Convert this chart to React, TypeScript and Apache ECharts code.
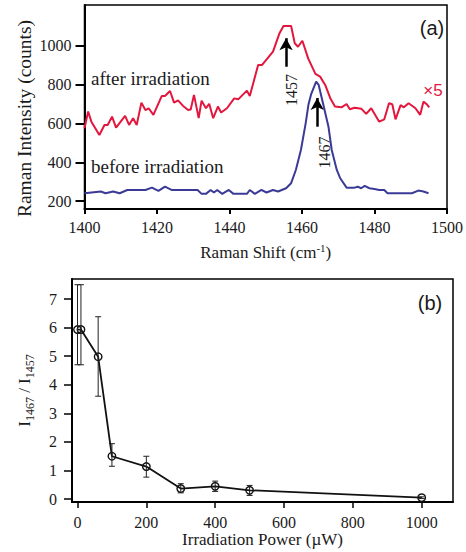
import React, { useEffect, useRef } from "react";
import * as echarts from "echarts";

// Panel (a): Raman spectra
const afterShift = [1400, 1401, 1401.9, 1404.1, 1405.5, 1406.4, 1407.6, 1408.7, 1411.2, 1412.3, 1413.4, 1414.4, 1415.7, 1416.8, 1417.7, 1419, 1421.3, 1422.2, 1423.6, 1424.7, 1425.8, 1427.2, 1428.6, 1429.3, 1430.2, 1431.5, 1432.3, 1433.5, 1434.4, 1435.5, 1436.8, 1437.7, 1439.3, 1441.3, 1442.4, 1444.8, 1445.6, 1447.9, 1449.0, 1452.0, 1453.8, 1454.9, 1457.0, 1458.0, 1458.9, 1460.1, 1461.7, 1463.7, 1465.0, 1466.4, 1467.8, 1469.1, 1470.9, 1472.3, 1473.2, 1474.5, 1476.4, 1477.7, 1479.1, 1481.3, 1482.7, 1484.0, 1484.9, 1485.8, 1487.2, 1488.1, 1489.4, 1491.3, 1492.6, 1493.5, 1494.4, 1495.1];
const afterCounts = [576, 662, 610, 541, 593, 593, 636, 579, 640, 593, 628, 593, 708, 670, 679, 645, 742, 742, 768, 708, 720, 691, 670, 673, 748, 628, 718, 679, 702, 628, 688, 657, 679, 730, 725, 770, 742, 902, 902, 971, 1066, 1103, 1103, 1014, 996, 1027, 936, 856, 842, 799, 731, 688, 684, 701, 674, 682, 676, 650, 679, 610, 622, 705, 700, 622, 695, 684, 705, 679, 645, 713, 700, 684];

const beforeShift = [1400, 1404.5, 1405.8, 1407.9, 1409.7, 1411.8, 1416.8, 1418.6, 1420.4, 1422.2, 1424.0, 1431.2, 1432.3, 1433.5, 1434.8, 1435.7, 1436.6, 1438.0, 1439.8, 1441.1, 1444.8, 1445.6, 1447.0, 1448.8, 1450.2, 1452.0, 1453.4, 1455.6, 1457.0, 1458.3, 1459.7, 1461.0, 1461.8, 1462.5, 1463.9, 1464.6, 1466.0, 1467.3, 1468.2, 1469.6, 1470.5, 1472.3, 1474.5, 1475.4, 1476.3, 1477.3, 1478.6, 1480.0, 1481.3, 1482.7, 1483.6, 1490.3, 1492.1, 1493.5, 1494.9];
const beforeCounts = [241, 250, 241, 250, 241, 258, 258, 270, 253, 275, 258, 258, 238, 238, 258, 245, 258, 238, 258, 238, 238, 258, 238, 258, 245, 258, 250, 267, 293, 361, 464, 600, 700, 750, 816, 799, 688, 584, 464, 361, 320, 270, 270, 275, 267, 279, 267, 263, 258, 258, 241, 241, 255, 250, 241];

const shiftTicks = [1400, 1420, 1440, 1460, 1480, 1500];
const countTicks = [200, 400, 600, 800, 1000];

// arrows: [shift, from count, to count]
const arrow1457 = [1455.6, 893, 1040];
const arrow1467 = [1464.2, 584, 732];

// Panel (b): ratio vs irradiation power
const power = [0, 10, 60, 100, 200, 300, 400, 500, 1000];
const ratio = [5.93, 5.93, 4.98, 1.5, 1.14, 0.37, 0.45, 0.31, 0.05];
const ratioLow = [4.7, 4.7, 3.6, 1.15, 0.77, 0.22, 0.27, 0.13, 0.02];
const ratioHigh = [7.5, 7.5, 6.38, 1.94, 1.5, 0.54, 0.63, 0.48, 0.08];

const powerTicks = [0, 200, 400, 600, 800, 1000];
const ratioTicks = [0, 1, 2, 3, 4, 5, 6, 7];

const SERIF = "Liberation Serif";
const SANS = "Liberation Sans";
const RED = "#e3173e";
const BLUE = "#3b3b97";

export default function App() {
  const ref = useRef<HTMLDivElement>(null);
  useEffect(() => {
    if (!ref.current) return;
    const chart = echarts.init(ref.current, null, { renderer: "svg" });

    const afterData = afterShift.map((x, i) => [x, afterCounts[i]]);
    const beforeData = beforeShift.map((x, i) => [x, beforeCounts[i]]);
    const ratioData = power.map((x, i) => [x, ratio[i]]);
    const errData = power.map((x, i) => [x, ratioLow[i], ratioHigh[i]]);

    const axisLine = { show: true, onZero: false, lineStyle: { color: "#000", width: 2 } };
    const tickLabel = (margin: number, values: number[]) => ({
      margin,
      customValues: values,
      formatter: (v: number) => "{t|" + String(v) + "}",
      rich: { t: { fontFamily: SERIF, fontSize: 16, color: "#1a1a1a" } },
    });

    chart.setOption({
      animation: false,
      backgroundColor: "#fff",
      textStyle: { fontFamily: SERIF },
      grid: [
        { left: 84.5, right: 11, top: 5, height: 204, show: true, borderColor: "#000", borderWidth: 1.5, backgroundColor: "transparent" },
        { left: 72, right: 13, top: 279, height: 223, show: true, borderColor: "#000", borderWidth: 1.5, backgroundColor: "transparent" },
      ],
      xAxis: [
        {
          type: "value", gridIndex: 0, min: 1400, max: 1500,
          axisLine, splitLine: { show: false },
          axisTick: { show: true, length: 5, lineStyle: { width: 2, color: "#000" }, customValues: shiftTicks },
          axisLabel: tickLabel(10, shiftTicks),
          name: "{n|Raman Shift (cm}{s|-1}{n|)}",
          nameLocation: "middle", nameGap: 33,
          nameTextStyle: {
            rich: {
              n: { fontFamily: SERIF, fontSize: 17, color: "#1a1a1a", lineHeight: 20, verticalAlign: "middle" },
              s: { fontFamily: SERIF, fontSize: 11, color: "#1a1a1a", lineHeight: 20, verticalAlign: "top" },
            },
          },
        },
        {
          type: "value", gridIndex: 1, min: -16, max: 1091,
          axisLine, splitLine: { show: false },
          axisTick: { show: true, length: 6, lineStyle: { width: 1.5, color: "#000" }, customValues: powerTicks },
          axisLabel: tickLabel(12, powerTicks),
          name: "Irradiation Power (\u00b5W)",
          nameLocation: "middle", nameGap: 28,
          nameTextStyle: { fontFamily: SERIF, fontSize: 17, color: "#1a1a1a" },
        },
      ],
      yAxis: [
        {
          type: "value", gridIndex: 0, min: 160, max: 1211,
          axisLine, splitLine: { show: false },
          axisTick: { show: true, length: 9, lineStyle: { width: 2, color: "#000" }, customValues: countTicks },
          axisLabel: tickLabel(13, countTicks),
        },
        {
          type: "value", gridIndex: 1, min: -0.1, max: 7.7,
          axisLine, splitLine: { show: false },
          axisTick: { show: true, length: 8, lineStyle: { width: 1.5, color: "#000" }, customValues: ratioTicks },
          axisLabel: tickLabel(15, ratioTicks),
          name: "{i|I}{s|1467}{i| / I}{s|1457}",
          nameLocation: "middle", nameGap: 36,
          nameTextStyle: {
            rich: {
              i: { fontFamily: SERIF, fontSize: 17, color: "#1a1a1a", lineHeight: 24, verticalAlign: "middle" },
              s: { fontFamily: SERIF, fontSize: 12, color: "#1a1a1a", lineHeight: 24, verticalAlign: "bottom" },
            },
          },
        },
      ],
      series: [
        {
          type: "line", name: "after irradiation", xAxisIndex: 0, yAxisIndex: 0,
          data: afterData, showSymbol: false, symbol: "none",
          lineStyle: { color: RED, width: 2 },
          markLine: {
            silent: true, symbol: ["none", "arrow"], symbolSize: [10, 12],
            label: { show: false },
            lineStyle: { color: "#000", width: 2.5, type: "solid" },
            data: [
              [{ coord: [arrow1457[0], arrow1457[1]] }, { coord: [arrow1457[0], arrow1457[2]] }],
              [{ coord: [arrow1467[0], arrow1467[1]] }, { coord: [arrow1467[0], arrow1467[2]] }],
            ],
          },
        },
        {
          type: "line", name: "before irradiation", xAxisIndex: 0, yAxisIndex: 0,
          data: beforeData, showSymbol: false, symbol: "none",
          lineStyle: { color: BLUE, width: 2 },
        },
        {
          type: "line", name: "ratio", xAxisIndex: 1, yAxisIndex: 1,
          data: ratioData, symbol: "circle", symbolSize: 7.5, showSymbol: true,
          lineStyle: { color: "#111", width: 1.8 },
          itemStyle: { color: "rgba(255,255,255,0)", borderColor: "#111", borderWidth: 1.4 },
        },
        {
          type: "custom", name: "error", xAxisIndex: 1, yAxisIndex: 1, z: 5,
          data: errData,
          encode: { x: 0, y: [1, 2] },
          renderItem: (params: any, api: any) => {
            const x = api.value(0);
            const lo = api.coord([x, api.value(1)]);
            const hi = api.coord([x, api.value(2)]);
            const w = 3;
            const style = { stroke: "#222", lineWidth: 1 };
            return {
              type: "group",
              children: [
                { type: "line", shape: { x1: lo[0], y1: lo[1], x2: hi[0], y2: hi[1] }, style },
                { type: "line", shape: { x1: lo[0] - w, y1: lo[1], x2: lo[0] + w, y2: lo[1] }, style },
                { type: "line", shape: { x1: hi[0] - w, y1: hi[1], x2: hi[0] + w, y2: hi[1] }, style },
              ],
            };
          },
        },
      ],
      graphic: [
        { type: "text", x: 24, y: 118.5, rotation: Math.PI / 2, style: { text: "Raman Intensity (counts)", fontFamily: SERIF, fontSize: 19.5, fill: "#1a1a1a", align: "center", verticalAlign: "middle" } },
        { type: "text", left: 91, top: 69, style: { text: "after irradiation", fontFamily: SERIF, fontSize: 19, fill: "#1a1a1a" } },
        { type: "text", left: 91, top: 157, style: { text: "before irradiation", fontFamily: SERIF, fontSize: 19, fill: "#1a1a1a" } },
        { type: "text", x: 433, y: 90, style: { text: "\u00d75", fontFamily: SANS, fontSize: 17, fill: RED, align: "center", verticalAlign: "middle" } },
        { type: "text", x: 432, y: 28, style: { text: "(a)", fontFamily: SANS, fontSize: 20, fill: "#1a1a1a", align: "center", verticalAlign: "middle" } },
        { type: "text", x: 430, y: 303, style: { text: "(b)", fontFamily: SANS, fontSize: 20, fill: "#1a1a1a", align: "center", verticalAlign: "middle" } },
        { type: "text", x: 291.5, y: 90, rotation: Math.PI / 2, style: { text: "1457", fontFamily: SERIF, fontSize: 16, fill: "#1a1a1a", align: "center", verticalAlign: "middle" } },
        { type: "text", x: 324, y: 152.5, rotation: Math.PI / 2, style: { text: "1467", fontFamily: SERIF, fontSize: 16, fill: "#1a1a1a", align: "center", verticalAlign: "middle" } },
      ],
    });
    return () => chart.dispose();
  }, []);
  return <div ref={ref} style={{ position: "fixed", left: 0, top: 0, width: 466, height: 552 }} />;
}
